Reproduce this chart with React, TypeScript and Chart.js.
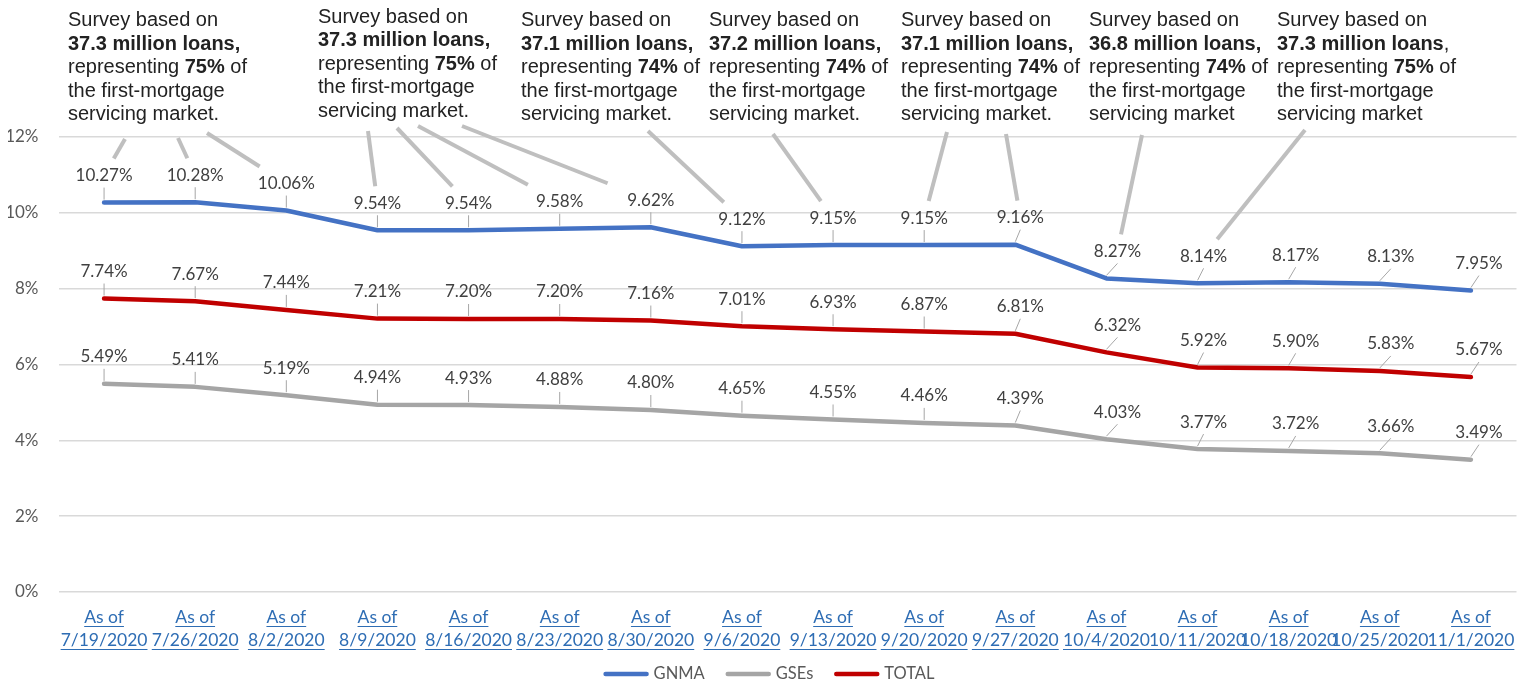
import React, { useEffect, useRef } from 'react';
import { Chart, registerables } from 'chart.js';

Chart.register(...registerables);

// ---------------- data ----------------
const categories: string[][] = [
  ['As of', '7/19/2020'],
  ['As of', '7/26/2020'],
  ['As of', '8/2/2020'],
  ['As of', '8/9/2020'],
  ['As of', '8/16/2020'],
  ['As of', '8/23/2020'],
  ['As of', '8/30/2020'],
  ['As of', '9/6/2020'],
  ['As of', '9/13/2020'],
  ['As of', '9/20/2020'],
  ['As of', '9/27/2020'],
  ['As of', '10/4/2020'],
  ['As of', '10/11/2020'],
  ['As of', '10/18/2020'],
  ['As of', '10/25/2020'],
  ['As of', '11/1/2020'],
];

const gnma = [10.27, 10.28, 10.06, 9.54, 9.54, 9.58, 9.62, 9.12, 9.15, 9.15, 9.16, 8.27, 8.14, 8.17, 8.13, 7.95];
const gses = [5.49, 5.41, 5.19, 4.94, 4.93, 4.88, 4.8, 4.65, 4.55, 4.46, 4.39, 4.03, 3.77, 3.72, 3.66, 3.49];
const total = [7.74, 7.67, 7.44, 7.21, 7.2, 7.2, 7.16, 7.01, 6.93, 6.87, 6.81, 6.32, 5.92, 5.9, 5.83, 5.67];

const yMin = 0;
const yMax = 12;
const yStep = 2;

// survey notes
const noteLoans = ['37.3', '37.3', '37.1', '37.2', '37.1', '36.8', '37.3'];
const noteShare = ['75%', '75%', '74%', '74%', '74%', '74%', '75%'];
const noteBoldComma = [true, true, true, true, true, true, false];
const notePeriod = [true, true, true, true, true, false, false];
const noteTargets = [[0, 1, 2], [3, 4, 5, 6], [7], [8], [9, 10], [11], [12]];

// ---------------- layout / style ----------------
const BLUE = '#4472C4';
const GRAY = '#A5A5A5';
const RED = '#C00000';
const LABEL_FONT = 'Lato, "Liberation Sans", sans-serif';
const NOTE_FONT = '"Liberation Sans", Arial, sans-serif';

const CANVAS_W = 1511;
const CANVAS_H = 680;

const noteLeft = [60, 310, 513, 701, 893, 1081, 1269];
const noteTop = [18, 14.5, 18, 18, 18, 18, 18];
const noteLineH = 23.5;
const noteLeaderStart = [
  [[117, 131], [170, 130], [199, 125]],
  [[360, 123], [389, 120], [410, 118], [454, 118]],
  [[640, 123]],
  [[765, 126]],
  [[939, 124], [998, 126]],
  [[1134, 127]],
  [[1297, 122]],
];
const labelShift = [0, 0, 0, 0, 0, 0, 0, 0, 0, 0, 5, 11, 6, 7, 11, 8];
const labelRise = 27;

function labelPos(pt: any, i: number) {
  return { x: pt.x + labelShift[i], y: pt.y - labelRise };
}

const dataLabelPlugin = {
  id: 'dataLabels',
  afterDatasetsDraw(chart: any) {
    const ctx = chart.ctx as CanvasRenderingContext2D;
    ctx.save();
    ctx.font = `17px ${LABEL_FONT}`;
    ctx.textAlign = 'center';
    ctx.textBaseline = 'middle';
    chart.data.datasets.forEach((ds: any, di: number) => {
      const meta = chart.getDatasetMeta(di);
      meta.data.forEach((pt: any, i: number) => {
        const p = labelPos(pt, i);
        ctx.strokeStyle = '#a6a6a6';
        ctx.lineWidth = 1;
        ctx.beginPath();
        ctx.moveTo(p.x, p.y + 12);
        ctx.lineTo(pt.x, pt.y - 3);
        ctx.stroke();
        ctx.fillStyle = '#404040';
        ctx.fillText(Number(ds.data[i]).toFixed(2) + '%', p.x, p.y);
      });
    });
    ctx.restore();
  },
};

const decorPlugin = {
  id: 'decor',
  afterDraw(chart: any) {
    const ctx = chart.ctx as CanvasRenderingContext2D;
    const xScale = chart.scales.x;
    ctx.save();

    // x-axis labels, underlined like links
    ctx.font = `17.5px ${LABEL_FONT}`;
    ctx.textAlign = 'center';
    ctx.textBaseline = 'alphabetic';
    ctx.fillStyle = '#2E6DB4';
    ctx.strokeStyle = '#2E6DB4';
    ctx.lineWidth = 1;
    const base0 = xScale.top + 31;
    categories.forEach((lines, i) => {
      const x = xScale.getPixelForValue(i);
      lines.forEach((t, li) => {
        const y = base0 + li * 23;
        ctx.fillText(t, x, y);
        const w = ctx.measureText(t).width;
        ctx.beginPath();
        ctx.moveTo(x - w / 2, Math.round(y + 2.5) + 0.5);
        ctx.lineTo(x + w / 2, Math.round(y + 2.5) + 0.5);
        ctx.stroke();
      });
    });

    // legend
    const items = chart.data.datasets.map((d: any) => ({ t: d.label, c: d.borderColor }));
    ctx.font = `16.5px ${LABEL_FONT}`;
    ctx.textBaseline = 'middle';
    ctx.textAlign = 'left';
    const lineLen = 45, gap = 5, spacing = 21;
    const widths = items.map((it: any) => ctx.measureText(it.t).width);
    const totalW = widths.reduce((a: number, w: number) => a + lineLen + gap + w, 0) + spacing * (items.length - 1);
    let lx = 761 - totalW / 2;
    const ly = 666;
    items.forEach((it: any, k: number) => {
      ctx.strokeStyle = it.c;
      ctx.lineWidth = 4.5;
      ctx.lineCap = 'round';
      ctx.beginPath();
      ctx.moveTo(lx + 2, ly);
      ctx.lineTo(lx + lineLen - 2, ly);
      ctx.stroke();
      ctx.fillStyle = '#595959';
      ctx.fillText(it.t, lx + lineLen + gap, ly);
      lx += lineLen + gap + widths[k] + spacing;
    });

    // survey notes with callout lines to GNMA labels
    const gMeta = chart.getDatasetMeta(0);
    ctx.lineCap = 'butt';
    noteLoans.forEach((loans, n) => {
      const x0 = noteLeft[n];
      const y0 = noteTop[n];
      const lines: [string, boolean][][] = [
        [['Survey based on', false]],
        noteBoldComma[n]
          ? [[`${loans} million loans,`, true]]
          : [[`${loans} million loans`, true], [',', false]],
        [['representing ', false], [noteShare[n], true], [' of', false]],
        [['the first-mortgage', false]],
        [['servicing market' + (notePeriod[n] ? '.' : ''), false]],
      ];
      ctx.fillStyle = '#222222';
      ctx.textAlign = 'left';
      ctx.textBaseline = 'alphabetic';
      lines.forEach((segs, li) => {
        let x = x0;
        segs.forEach(([t, b]) => {
          ctx.font = `${b ? 'bold ' : ''}20px ${NOTE_FONT}`;
          ctx.fillText(t, x, y0 + li * noteLineH);
          x += ctx.measureText(t).width;
        });
      });
      noteTargets[n].forEach((idx, k) => {
        const [sx, sy] = noteLeaderStart[n][k];
        const p = labelPos(gMeta.data[idx], idx);
        const ey = p.y - 17;
        const t = (ey - sy) / (p.y - sy);
        const ex = sx + (p.x - sx) * t;
        ctx.strokeStyle = '#BFBFBF';
        ctx.lineWidth = 4;
        ctx.beginPath();
        ctx.moveTo(sx, sy);
        ctx.lineTo(ex, ey);
        ctx.stroke();
      });
    });

    ctx.restore();
  },
};

export default function App() {
  const ref = useRef<HTMLCanvasElement | null>(null);

  useEffect(() => {
    if (!ref.current) return;
    const chart = new Chart(ref.current, {
      type: 'line',
      data: {
        labels: categories.map((c) => c.join(' ')),
        datasets: [
          { label: 'GNMA', data: gnma, borderColor: BLUE, backgroundColor: BLUE },
          { label: 'GSEs', data: gses, borderColor: GRAY, backgroundColor: GRAY },
          { label: 'TOTAL', data: total, borderColor: RED, backgroundColor: RED },
        ].map((d) => ({
          ...d,
          borderWidth: 4.5,
          pointRadius: 0,
          pointHoverRadius: 0,
          tension: 0,
          fill: false,
          borderJoinStyle: 'round' as const,
          borderCapStyle: 'round' as const,
        })),
      },
      options: {
        animation: false,
        responsive: true,
        maintainAspectRatio: false,
        layout: { padding: { top: 129, right: 2.5, left: 0, bottom: 0 } },
        plugins: {
          legend: { display: false },
          tooltip: { enabled: false },
        },
        scales: {
          x: {
            type: 'category',
            offset: true,
            grid: { display: false },
            border: { display: false },
            ticks: { display: false },
            afterFit: (s: any) => {
              s.height = CANVAS_H - 584;
            },
          },
          y: {
            min: yMin,
            max: yMax,
            ticks: {
              stepSize: yStep,
              padding: 20,
              color: '#595959',
              font: { family: LABEL_FONT, size: 17 },
              callback: (v: any) => `${v}%`,
            },
            grid: { color: '#D9D9D9', lineWidth: 1.5, drawTicks: false },
            border: { display: false },
            afterFit: (s: any) => {
              s.width = 50.5;
            },
          },
        },
      },
      plugins: [dataLabelPlugin, decorPlugin],
    });
    return () => chart.destroy();
  }, []);

  return (
    <div style={{ position: 'relative', width: CANVAS_W, height: CANVAS_H, marginBottom: -8 }}>
      <canvas ref={ref} />
    </div>
  );
}
